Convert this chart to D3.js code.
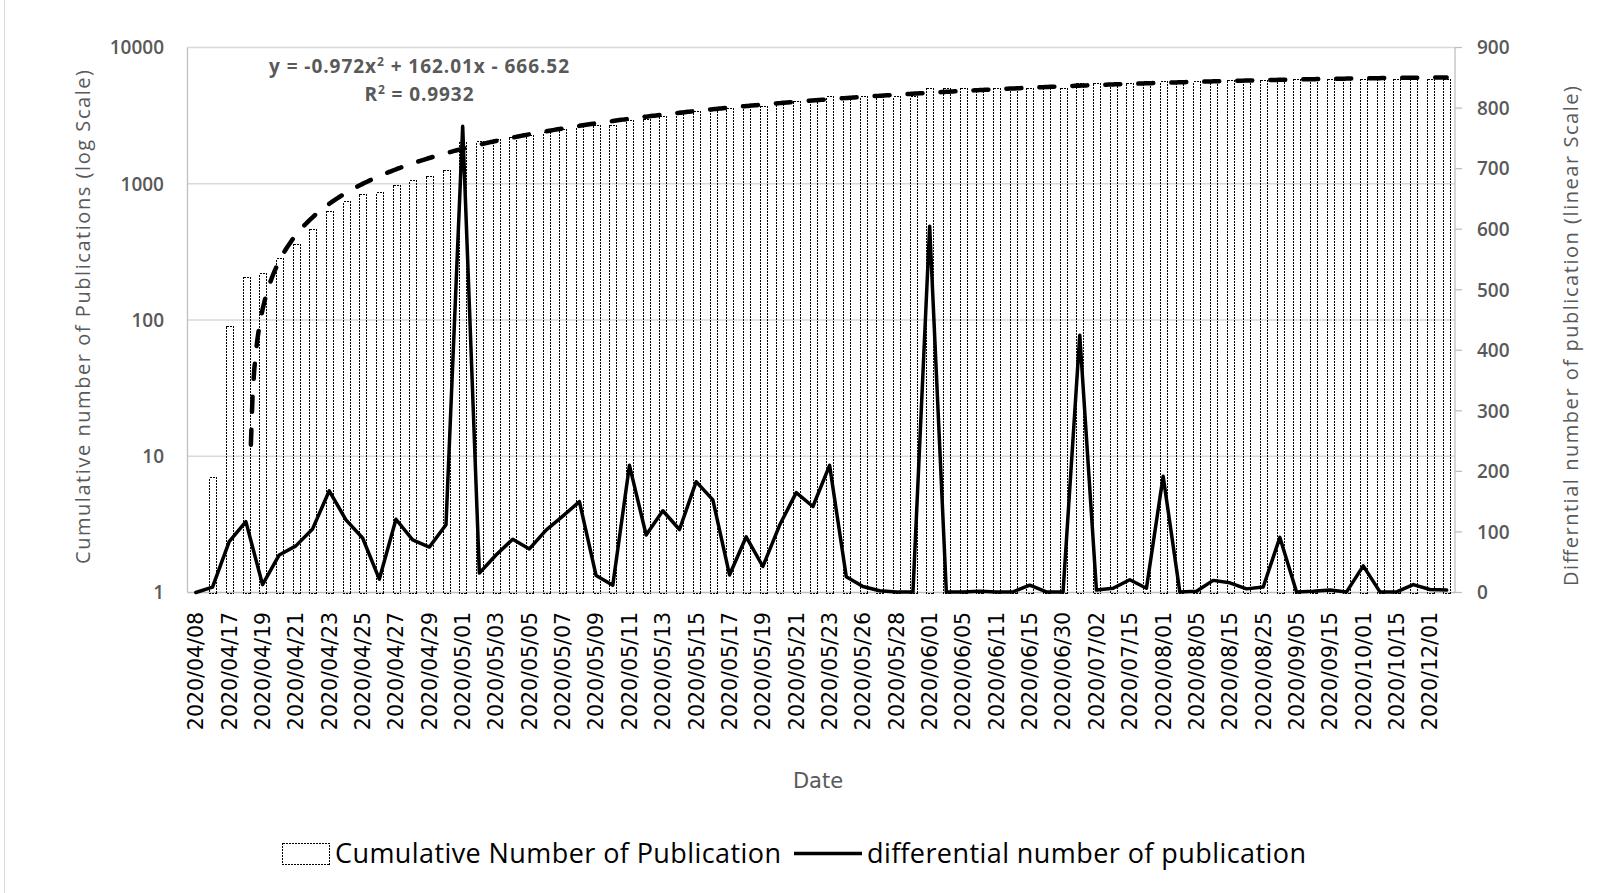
<!DOCTYPE html>
<html>
<head>
<meta charset="utf-8">
<script src="https://cdn.jsdelivr.net/npm/d3@7"></script>
<style>
  body { margin: 0; background: #fff; }
  .tick-y { font-family: "Open Sans", sans-serif; font-weight: 600; font-size: 19px; fill: #595959; }
  .title { font-family: "Open Sans", sans-serif; font-size: 20px; fill: #595959; }
</style>
</head>
<body>
<div id="chart"></div>
<script>
// Category labels (every other category is labelled on the axis)
var tickLabels = ["2020/04/08", "2020/04/17", "2020/04/19", "2020/04/21", "2020/04/23", "2020/04/25",
  "2020/04/27", "2020/04/29", "2020/05/01", "2020/05/03", "2020/05/05", "2020/05/07", "2020/05/09",
  "2020/05/11", "2020/05/13", "2020/05/15", "2020/05/17", "2020/05/19", "2020/05/21", "2020/05/23",
  "2020/05/26", "2020/05/28", "2020/06/01", "2020/06/05", "2020/06/11", "2020/06/15", "2020/06/30",
  "2020/07/02", "2020/07/15", "2020/08/01", "2020/08/05", "2020/08/15", "2020/08/25", "2020/09/05",
  "2020/09/15", "2020/10/01", "2020/10/15", "2020/12/01"];

// Cumulative number of publications (bars, log axis)
var cumulative = [1, 7, 91, 208, 221, 283, 360, 465, 633, 753, 843, 865, 986, 1073, 1148, 1260,
  2030, 2062, 2124, 2212, 2284, 2387, 2513, 2663, 2691, 2703, 2913, 3008, 3143, 3247, 3430, 3583,
  3612, 3704, 3747, 3858, 4023, 4165, 4375, 4401, 4411, 4414, 4415, 4416, 5021, 5022, 5023, 5025,
  5026, 5027, 5039, 5040, 5041, 5466, 5470, 5477, 5498, 5505, 5697, 5698, 5700, 5720, 5736, 5742,
  5751, 5842, 5843, 5845, 5849, 5850, 5894, 5895, 5896, 5909, 5914, 5918];

// Differential number of publications (line, linear axis)
var differential = [0, 9, 84, 117, 13, 62, 77, 105, 168, 120, 90, 22, 121, 87, 75, 112,
  770, 32, 62, 88, 72, 103, 126, 150, 28, 12, 210, 95, 135, 104, 183, 153,
  29, 92, 43, 111, 165, 142, 210, 26, 10, 3, 1, 1, 605, 1, 1, 2,
  1, 1, 12, 1, 1, 425, 4, 7, 21, 7, 192, 1, 2, 20, 16, 6,
  9, 91, 1, 2, 4, 1, 44, 1, 1, 13, 5, 4];

// Polynomial trendline shown on the chart: a*x^2 + b*x + c
var trendCoef = [-0.972, 162.01, -666.52];

var leftTicks = [1, 10, 100, 1000, 10000];
var rightTicks = [0, 100, 200, 300, 400, 500, 600, 700, 800, 900];

var width = 1609, height = 893;
// plot area edges ("top" is reserved by the window, so use a prefix)
var pLeft = 187.5, pRight = 1455, pTop = 47.5, pBottom = 592.5;

var svg = d3.select("#chart").append("svg")
  .attr("width", width)
  .attr("height", height);

svg.append("rect").attr("width", width).attr("height", height).attr("fill", "#fff");
// chart area border (only the left edge shows in the picture)
svg.append("line")
  .attr("x1", 4.5).attr("x2", 4.5)
  .attr("y1", 0).attr("y2", height)
  .attr("stroke", "#d9d9d9");

var x = d3.scaleBand()
  .domain(d3.range(cumulative.length))
  .range([pLeft, pRight])
  .paddingInner(0.6)
  .paddingOuter(0.3);
function cx(i) { return x(i) + x.bandwidth() / 2; }

var yLog = d3.scaleLog().domain([1, 10000]).range([pBottom, pTop]);
var yLin = d3.scaleLinear().domain([0, 900]).range([pBottom, pTop]);

// gridlines from the log axis
svg.selectAll(".grid")
  .data(leftTicks.slice(1))
  .enter().append("line")
  .attr("x1", pLeft).attr("x2", pRight)
  .attr("y1", function(d) { return yLog(d); })
  .attr("y2", function(d) { return yLog(d); })
  .attr("stroke", "#d9d9d9")
  .attr("stroke-width", 1.3);

// axis lines
svg.append("line").attr("x1", pLeft).attr("x2", pLeft).attr("y1", pTop).attr("y2", pBottom)
  .attr("stroke", "#bfbfbf").attr("stroke-width", 1.3);
svg.append("line").attr("x1", pRight).attr("x2", pRight).attr("y1", pTop).attr("y2", pBottom)
  .attr("stroke", "#bfbfbf").attr("stroke-width", 1.3);
svg.append("line").attr("x1", pLeft).attr("x2", pRight).attr("y1", pBottom).attr("y2", pBottom)
  .attr("stroke", "#bfbfbf").attr("stroke-width", 1.3);

// left axis labels
svg.selectAll(".ly")
  .data(leftTicks)
  .enter().append("text")
  .attr("class", "tick-y")
  .attr("x", 164)
  .attr("y", function(d) { return yLog(d); })
  .attr("dy", "0.36em")
  .attr("text-anchor", "end")
  .text(function(d) { return d; });

// right axis ticks and labels
svg.selectAll(".rt")
  .data(rightTicks)
  .enter().append("line")
  .attr("x1", pRight).attr("x2", pRight + 7)
  .attr("y1", function(d) { return yLin(d); })
  .attr("y2", function(d) { return yLin(d); })
  .attr("stroke", "#bfbfbf").attr("stroke-width", 1.3);
svg.selectAll(".ry")
  .data(rightTicks)
  .enter().append("text")
  .attr("class", "tick-y")
  .attr("x", 1477)
  .attr("y", function(d) { return yLin(d); })
  .attr("dy", "0.36em")
  .text(function(d) { return d; });

// bars with dotted outline, snapped to the pixel grid so the dots stay sharp
svg.selectAll(".bar")
  .data(cumulative)
  .enter().append("rect")
  .attr("x", function(d, i) { return Math.round(x(i)) + 0.5; })
  .attr("width", Math.round(x.bandwidth()))
  .attr("y", function(d) { return Math.round(yLog(d)) + 0.5; })
  .attr("height", function(d) { return Math.round(pBottom) - Math.round(yLog(d)); })
  .attr("fill", "none")
  .attr("stroke", function(d) { return d > 1 ? "#000" : "none"; })
  .attr("stroke-width", 1.2)
  .attr("stroke-dasharray", "2,1")
  .attr("shape-rendering", "crispEdges");

// trendline (log axis, only positive values can be drawn)
var xt = d3.scaleLinear().domain([1, cumulative.length]).range([cx(0), cx(cumulative.length - 1)]);
var trendPts = d3.range(1, cumulative.length + 0.001, 0.1).map(function(t) {
  return [t, trendCoef[0] * t * t + trendCoef[1] * t + trendCoef[2]];
}).filter(function(p) { return p[1] >= 1; });
svg.append("path")
  .datum(trendPts)
  .attr("d", d3.line()
    .x(function(p) { return xt(p[0]); })
    .y(function(p) { return yLog(p[1]); }))
  .attr("fill", "none")
  .attr("stroke", "#000")
  .attr("stroke-width", 4.5)
  .attr("stroke-linecap", "round")
  .attr("stroke-dasharray", "15,18");

// differential line
svg.append("path")
  .datum(differential)
  .attr("d", d3.line()
    .x(function(d, i) { return cx(i); })
    .y(function(d) { return yLin(d); }))
  .attr("fill", "none")
  .attr("stroke", "#000")
  .attr("stroke-width", 3.5)
  .attr("stroke-linejoin", "round")
  .attr("stroke-linecap", "round");

// category axis
var xAxis = d3.axisBottom(x)
  .tickValues(d3.range(0, cumulative.length - 1, 2))
  .tickFormat(function(i) { return tickLabels[i / 2]; })
  .tickSize(0);
var gx = svg.append("g").attr("transform", "translate(0,612)").call(xAxis);
gx.select(".domain").remove();
gx.selectAll("text")
  .attr("y", 0).attr("x", 0)
  .attr("dy", "0.36em")
  .attr("transform", "rotate(-90)")
  .style("text-anchor", "end")
  .style("font-family", "'DejaVu Sans', sans-serif")
  .style("font-size", "20.5px")
  .style("fill", "#000");

// axis titles
svg.append("text")
  .attr("class", "title")
  .attr("transform", "translate(83,317) rotate(-90)")
  .attr("dy", "0.35em")
  .attr("text-anchor", "middle")
  .attr("textLength", 494)
  .text("Cumulative number of Publications (log Scale)");
svg.append("text")
  .attr("class", "title")
  .attr("transform", "translate(1571,336) rotate(-90)")
  .attr("dy", "0.35em")
  .attr("text-anchor", "middle")
  .attr("textLength", 500)
  .text("Differntial number of publication (linear Scale)");
svg.append("text")
  .attr("x", 818).attr("y", 788)
  .attr("text-anchor", "middle")
  .style("font-family", "'DejaVu Sans', sans-serif")
  .style("font-size", "21px")
  .style("fill", "#595959")
  .text("Date");

// trendline equation
var eq = svg.append("text")
  .attr("x", 419).attr("y", 73)
  .attr("text-anchor", "middle")
  .attr("textLength", 300)
  .style("font-family", "'Open Sans', sans-serif")
  .style("font-weight", 700)
  .style("font-size", "19px")
  .style("fill", "#595959");
eq.append("tspan").text("y = -0.972x");
eq.append("tspan").attr("dy", -7).style("font-size", "12px").text("2");
eq.append("tspan").attr("dy", 7).text(" + 162.01x - 666.52");
var r2 = svg.append("text")
  .attr("x", 419).attr("y", 101)
  .attr("text-anchor", "middle")
  .attr("textLength", 109)
  .style("font-family", "'Open Sans', sans-serif")
  .style("font-weight", 700)
  .style("font-size", "19px")
  .style("fill", "#595959");
r2.append("tspan").text("R");
r2.append("tspan").attr("dy", -7).style("font-size", "12px").text("2");
r2.append("tspan").attr("dy", 7).text(" = 0.9932");

// legend
svg.append("rect")
  .attr("x", 282.5).attr("y", 843.5)
  .attr("width", 47).attr("height", 21)
  .attr("fill", "none")
  .attr("stroke", "#000")
  .attr("stroke-width", 1)
  .attr("stroke-dasharray", "2,1")
  .attr("shape-rendering", "crispEdges");
svg.append("text")
  .attr("x", 335).attr("y", 863)
  .attr("textLength", 446)
  .style("font-family", "'Open Sans', sans-serif")
  .style("font-size", "27px")
  .style("fill", "#000")
  .text("Cumulative Number of Publication");
svg.append("line")
  .attr("x1", 794).attr("x2", 862)
  .attr("y1", 853.5).attr("y2", 853.5)
  .attr("stroke", "#000").attr("stroke-width", 3.5);
svg.append("text")
  .attr("x", 867).attr("y", 863)
  .attr("textLength", 439)
  .style("font-family", "'Open Sans', sans-serif")
  .style("font-size", "27px")
  .style("fill", "#000")
  .text("differential number of publication");
</script>
</body>
</html>
